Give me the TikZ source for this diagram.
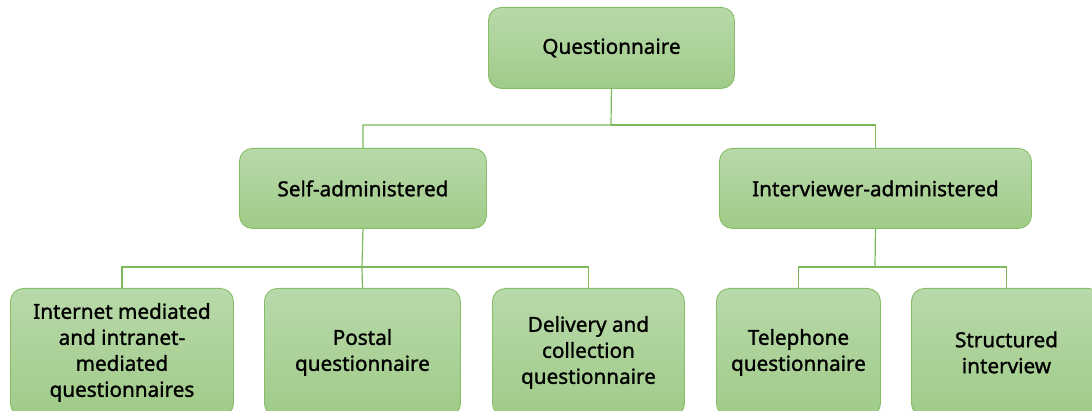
\documentclass[tikz,border=0pt]{standalone}
\usepackage{fontspec}
\setmainfont[FakeBold=1.3]{Noto Sans}
\definecolor{boxtop}{HTML}{B8D9AA}
\definecolor{boxbot}{HTML}{A0CB88}
\definecolor{boxline}{HTML}{86BE67}
\definecolor{conn}{HTML}{7DB85A}
\begin{document}
\begin{tikzpicture}[x=1pt,y=-1pt,
  box/.style={draw=boxline,line width=0.9pt,rounded corners=13pt,top color=boxtop,bottom color=boxbot,
    align=center,font=\fontsize{20.7}{26}\selectfont\bfseries,inner sep=0pt,anchor=north west},
  conline/.style={draw=conn,line width=1.2pt}]
\useasboundingbox (0,0) rectangle (1092,411);
\node[box,minimum width=246pt,minimum height=81pt] (q) at (488,7) {Questionnaire};
\node[box,minimum width=247pt,minimum height=80pt] (s) at (239,148) {Self-administered};
\node[box,minimum width=312pt,minimum height=80pt] (iv) at (719,148) {Interviewer-administered};
\node[box,minimum width=223pt,minimum height=128pt] (b1) at (10,288) {Internet mediated\\and intranet-\\mediated\\questionnaires};
\node[box,minimum width=196pt,minimum height=128pt] (b2) at (264,288) {Postal\\questionnaire};
\node[box,minimum width=192pt,minimum height=128pt] (b3) at (492,288) {Delivery and\\collection\\questionnaire};
\node[box,minimum width=164pt,minimum height=128pt] (b4) at (716,288) {Telephone\\questionnaire};
\node[box,minimum width=190pt,minimum height=128pt] (b5) at (911,288) {Structured\\interview};
\coordinate (jq) at (611,125);
\coordinate (js) at (362,267);
\coordinate (ji) at (875,267);
\draw[conline] (q.south) -- (jq) -| (s.north);
\draw[conline] (jq) -| (iv.north);
\draw[conline] (s.south) -- (js);
\draw[conline] (js) -| (b1.north);
\draw[conline] (js) -| (b3.north);
\draw[conline] (js) -- (b2.north);
\draw[conline] (iv.south) -- (ji);
\draw[conline] (ji) -| (b4.north);
\draw[conline] (ji) -| (b5.north);
\end{tikzpicture}
\end{document}
